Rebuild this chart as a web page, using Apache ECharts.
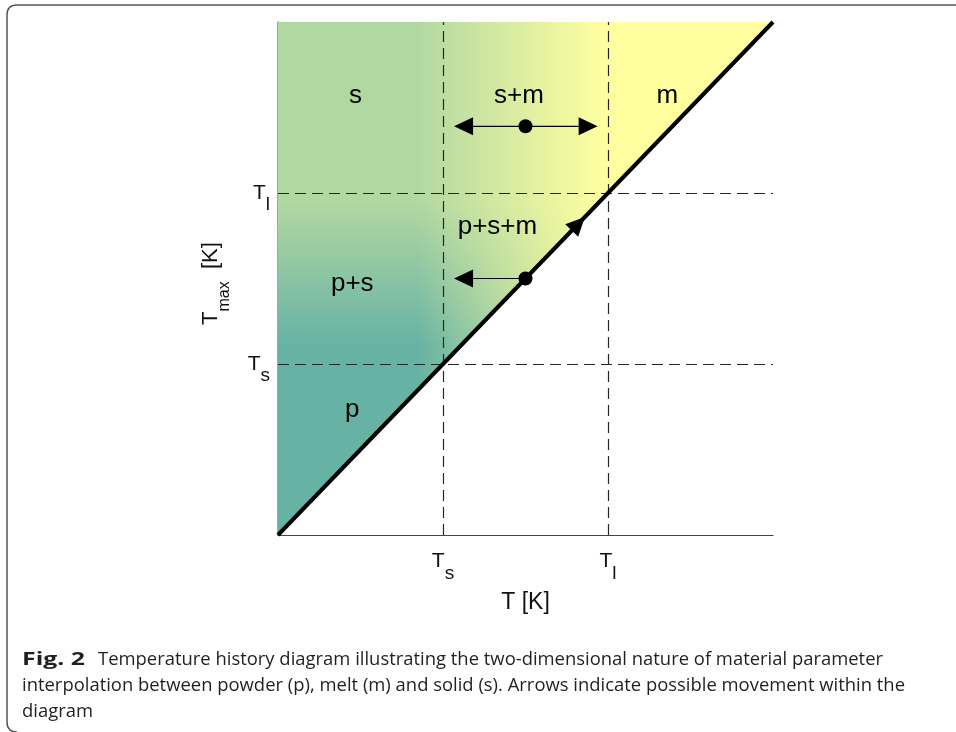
<!DOCTYPE html>
<html>
<head>
<meta charset="utf-8">
<script src="https://cdn.jsdelivr.net/npm/echarts@6/dist/echarts.min.js"></script>
<style>
html,body{margin:0;padding:0;background:#fff;}
#chart{width:956px;height:732px;}
</style>
</head>
<body>
<div id="chart"></div>
<script>
// ---- data ----
const axisMax = 3;
const tickValues = [1, 2];          // Ts, Tl
const tickSubscripts = ['s', 'l'];
const diagonal = [[0, 0], [3, 3]];
const fillPolygon = [[0, 0], [3, 3], [0, 3]];
const regionNames = ['s', 's+m', 'm', 'p+s+m', 'p+s', 'p'];
const regionX = [0.47, 1.46, 2.36, 1.33, 0.45, 0.45];
const regionY = [2.57, 2.57, 2.57, 1.80, 1.47, 0.73];
const dots = [[1.5, 2.39], [1.5, 1.5]];
// arrows: [fromX, fromY, toX, toY]
const arrows = [
  [1.5, 2.39, 1.067, 2.39],
  [1.5, 2.39, 1.937, 2.39],
  [1.5, 1.5, 1.067, 1.5],
  [1.5, 1.5, 1.86, 1.86]
];
// gradient stops (data units)
const gradTealY = 1.1, gradGreenY = 1.95;
const yellowFromX = 0.85, yellowToX = 1.97;
const captionLines = [
  'Temperature history diagram illustrating the two-dimensional nature of material parameter',
  'interpolation between powder (p), melt (m) and solid (s). Arrows indicate possible movement within the',
  'diagram'
];

// ---- colours ----
const teal = 'rgb(102,178,164)';
const green = 'rgb(178,216,162)';
const yellowRGB = '255,255,160';

const chart = echarts.init(document.getElementById('chart'), null, {renderer: 'canvas'});

function renderFill(params, api) {
  const pts = fillPolygon.map(p => api.coord(p));
  const yT = api.coord([0, gradTealY])[1];
  const yG = api.coord([0, gradGreenY])[1];
  const xA = api.coord([yellowFromX, 0])[0];
  const xB = api.coord([yellowToX, 0])[0];
  return {
    type: 'group',
    children: [
      {type: 'polygon', shape: {points: pts}, style: {
        fill: new echarts.graphic.LinearGradient(0, yT, 0, yG,
          [{offset: 0, color: teal}, {offset: 1, color: green}], true)}},
      {type: 'polygon', shape: {points: pts}, style: {
        fill: new echarts.graphic.LinearGradient(xA, 0, xB, 0,
          [{offset: 0, color: 'rgba(' + yellowRGB + ',0)'}, {offset: 1, color: 'rgba(' + yellowRGB + ',1)'}], true)}}
    ]
  };
}

function renderGrid(params, api) {
  const t = api.value(0);
  const a = api.coord([t, 0]), b = api.coord([t, axisMax]);
  const c = api.coord([0, t]), d = api.coord([axisMax, t]);
  const vx = Math.round(a[0]) + 0.5, hy = Math.round(c[1]) + 0.5;
  const st = () => ({stroke: '#262626', lineWidth: 1.2, lineDash: [11, 6], fill: null});
  return {
    type: 'group',
    children: [
      {type: 'line', shape: {x1: vx, y1: a[1], x2: vx, y2: b[1]}, style: st()},
      {type: 'line', shape: {x1: c[0], y1: hy, x2: d[0], y2: hy}, style: st()}
    ]
  };
}

function renderArrow(params, api) {
  const p1 = api.coord([api.value(0), api.value(1)]);
  const p2 = api.coord([api.value(2), api.value(3)]);
  const dx = p2[0] - p1[0], dy = p2[1] - p1[1];
  const len = Math.hypot(dx, dy);
  const ux = dx / len, uy = dy / len;
  const L = 19, W = 9;
  const bx = p2[0] - ux * L, by = p2[1] - uy * L;
  const pts = [[p2[0], p2[1]], [bx - uy * W, by + ux * W], [bx + uy * W, by - ux * W]];
  return {
    type: 'group',
    children: [
      {type: 'line', shape: {x1: p1[0], y1: p1[1], x2: bx, y2: by}, style: {stroke: '#000', lineWidth: 1.2}},
      {type: 'polygon', shape: {points: pts}, style: {fill: '#000'}}
    ]
  };
}

function tickFormatter(v) {
  const i = tickValues.indexOf(v);
  if (i < 0) return '';
  return '{t|T}{s|' + tickSubscripts[i] + '}';
}
const tickRich = {
  t: {fontSize: 21, fontFamily: 'Liberation Sans', color: '#111'},
  s: {fontSize: 19, fontFamily: 'Liberation Sans', color: '#111', padding: [24, 0, 0, 0]}
};

const regionData = regionNames.map((n, i) => ({name: n, value: [regionX[i], regionY[i]]}));

const captionFont = '"Open Sans"';
const capSize = 18;
const frameStyle = {stroke: '#555', lineWidth: 1.5, fill: null};

// horizontal condensing of caption to match the condensed print typeface
const mctx = document.createElement('canvas').getContext('2d');
mctx.font = capSize + 'px ' + captionFont;
const capScale = 883 / mctx.measureText(captionLines[1]).width;
mctx.font = 'bold ' + capSize + 'px ' + captionFont;
const figScale = 63 / mctx.measureText('Fig. 2').width;

const option = {
  animation: false,
  backgroundColor: '#fff',
  grid: {left: 278, top: 22, width: 495, height: 513},
  xAxis: {
    type: 'value', min: 0, max: axisMax, interval: 1,
    axisLine: {show: true, lineStyle: {color: '#444', width: 1.2}},
    axisTick: {show: false},
    splitLine: {show: false},
    axisLabel: {formatter: tickFormatter, rich: tickRich, margin: 5, showMinLabel: false, showMaxLabel: false},
    name: 'T [K]', nameLocation: 'middle', nameGap: 56,
    nameTextStyle: {fontSize: 23, fontFamily: 'Liberation Sans', color: '#111'}
  },
  yAxis: {
    type: 'value', min: 0, max: axisMax, interval: 1,
    axisLine: {show: true, lineStyle: {color: '#888', width: 1.5}},
    axisTick: {show: false},
    splitLine: {show: false},
    axisLabel: {formatter: tickFormatter, rich: tickRich, margin: 8, showMinLabel: false, showMaxLabel: false},
    name: '{t|T}{s|max}{t|  [K]}', nameLocation: 'middle', nameGap: 45,
    nameTextStyle: {
      padding: [0, 10, 0, 0],
      rich: {
        t: {fontSize: 22, fontFamily: 'Liberation Sans', color: '#111'},
        s: {fontSize: 16, fontFamily: 'Liberation Sans', color: '#111', padding: [28, 0, 0, 0]}
      }
    }
  },
  series: [
    {type: 'custom', renderItem: renderFill, data: [fillPolygon[0]], z: 1, silent: true},
    {type: 'custom', renderItem: renderGrid, data: tickValues.map(v => [v]), encode: {x: 0}, z: 2, silent: true},
    {type: 'line', data: diagonal, symbol: 'none', lineStyle: {color: '#000', width: 4}, z: 3, silent: true},
    {type: 'custom', renderItem: renderArrow, data: arrows, encode: {x: [0, 2], y: [1, 3]}, z: 4, silent: true},
    {type: 'scatter', data: dots, symbolSize: 14, itemStyle: {color: '#000', opacity: 1}, z: 5, silent: true},
    {type: 'scatter', data: regionData, symbolSize: 0, z: 6, silent: true, itemStyle: {opacity: 1},
      label: {show: true, position: 'inside', formatter: p => p.name, fontSize: 26, fontFamily: 'Liberation Sans', color: '#000'}}
  ],
  graphic: [
    {type: 'line', shape: {x1: 17, y1: 5, x2: 956, y2: 5}, style: frameStyle},
    {type: 'bezierCurve', shape: {x1: 17, y1: 5, cpx1: 7, cpy1: 5, x2: 7, y2: 15}, style: frameStyle},
    {type: 'line', shape: {x1: 7, y1: 15, x2: 7, y2: 722}, style: frameStyle},
    {type: 'bezierCurve', shape: {x1: 7, y1: 722, cpx1: 7, cpy1: 732, x2: 17, y2: 732}, style: frameStyle},
    {type: 'text', x: 22, y: 660, scaleX: figScale, style: {text: 'Fig. 2', font: 'bold ' + capSize + 'px ' + captionFont, fill: '#231f20', verticalAlign: 'middle'}},
    {type: 'text', x: 98, y: 660, scaleX: capScale, style: {text: captionLines[0], font: capSize + 'px ' + captionFont, fill: '#231f20', verticalAlign: 'middle'}},
    {type: 'text', x: 22, y: 686, scaleX: capScale, style: {text: captionLines[1], font: capSize + 'px ' + captionFont, fill: '#231f20', verticalAlign: 'middle'}},
    {type: 'text', x: 22, y: 712, scaleX: capScale, style: {text: captionLines[2], font: capSize + 'px ' + captionFont, fill: '#231f20', verticalAlign: 'middle'}}
  ]
};

chart.setOption(option);
</script>
</body>
</html>
